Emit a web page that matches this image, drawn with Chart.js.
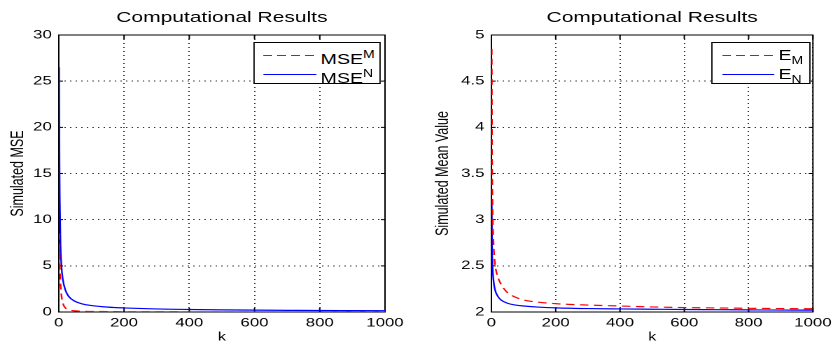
<!DOCTYPE html>
<html>
<head>
<meta charset="utf-8">
<script src="https://cdn.jsdelivr.net/npm/chart.js@4"></script>
<style>
  body { margin: 0; background: #fff; }
  #stage {
    position: relative;
    width: 598px;
    height: 347px;
    transform: scaleX(1.4);
    transform-origin: 0 0;
    font-family: "Liberation Sans", Arial, sans-serif;
  }
  #left, #right { position: absolute; top: 0; }
  #left { left: 0; }
  #right { left: 299px; }
  .legend {
    position: absolute;
    top: 42px;
    height: 42px;
    border: 1px solid #000;
    background: #fff;
    box-sizing: border-box;
    font-size: 14px;
    color: #000;
  }
  .legend .row { position: absolute; left: 0; width: 100%; height: 18px; line-height: 18px; white-space: nowrap; }
  .legend .swatch { position: absolute; top: 9px; height: 1px; }
  .legend .solid { background: #0000ff; }
  .legend .dashed { background: repeating-linear-gradient(to right, #ff0000 0 6px, transparent 6px 10px); }
  .legend .txt { position: absolute; top: 0; }
  .legend sup, .legend sub { font-size: 10px; }
</style>
</head>
<body>
<div id="stage">
  <canvas id="left" width="299" height="347"></canvas>
  <canvas id="right" width="299" height="347"></canvas>

  <div class="legend" style="left:181px;width:91px;">
    <div class="row" style="top:3px;">
      <div class="swatch dashed" style="left:6px;width:38px;"></div>
      <span class="txt" style="left:47px">MSE<sup>M</sup></span>
    </div>
    <div class="row" style="top:22px;">
      <div class="swatch solid" style="left:6px;width:38px;"></div>
      <span class="txt" style="left:47px">MSE<sup>N</sup></span>
    </div>
  </div>

  <div class="legend" style="left:508px;width:71px;">
    <div class="row" style="top:3px;">
      <div class="swatch dashed" style="left:7px;width:37px;"></div>
      <span class="txt" style="left:47px">E<sub>M</sub></span>
    </div>
    <div class="row" style="top:22px;">
      <div class="swatch solid" style="left:7px;width:37px;"></div>
      <span class="txt" style="left:47px">E<sub>N</sub></span>
    </div>
  </div>
</div>

<script>
// iteration index k (shared by all four curves)
const kValues = [1, 2, 3, 5, 8, 12, 20, 30, 50, 75, 100, 150, 200, 300, 400, 500, 600, 700, 800, 900, 1000];

// left panel: simulated MSE
const mseM = [8.5, 6.5, 5.0, 3.2, 1.8, 1.0, 0.45, 0.25, 0.12, 0.08, 0.06, 0.045, 0.035, 0.028, 0.022, 0.019, 0.016, 0.014, 0.012, 0.011, 0.01];
const mseN = [26.5, 16, 12, 7.5, 5.0, 3.6, 2.4, 1.7, 1.15, 0.85, 0.7, 0.53, 0.44, 0.33, 0.27, 0.23, 0.2, 0.18, 0.16, 0.15, 0.14];

// right panel: simulated mean value
const eM = [4.85, 3.8, 3.3, 2.9, 2.65, 2.5, 2.38, 2.3, 2.21, 2.16, 2.13, 2.105, 2.09, 2.075, 2.065, 2.055, 2.048, 2.044, 2.04, 2.037, 2.035];
const eN = [3.2, 2.7, 2.55, 2.4, 2.3, 2.23, 2.17, 2.13, 2.095, 2.075, 2.065, 2.052, 2.045, 2.037, 2.033, 2.03, 2.027, 2.025, 2.023, 2.021, 2.02];

const xTicks = [0, 200, 400, 600, 800, 1000];
const titleText = 'Computational Results';

const FONT = '"Liberation Sans", Arial, sans-serif';

function points(values) {
  return kValues.map((k, i) => ({ x: k, y: values[i] }));
}

// MATLAB-style box around the axes with small inward tick marks
const framePlugin = {
  id: 'frame',
  beforeDatasetsDraw(chart) {
    const { ctx, chartArea: a, scales } = chart;
    ctx.save();
    ctx.strokeStyle = '#000';
    ctx.lineWidth = 1;
    ctx.setLineDash([]);
    ctx.strokeRect(a.left, a.top, a.right - a.left, a.bottom - a.top);
    ctx.beginPath();
    scales.x.ticks.forEach((t) => {
      const px = scales.x.getPixelForValue(t.value);
      ctx.moveTo(px, a.bottom); ctx.lineTo(px, a.bottom - 4);
      ctx.moveTo(px, a.top); ctx.lineTo(px, a.top + 4);
    });
    scales.y.ticks.forEach((t) => {
      const py = scales.y.getPixelForValue(t.value);
      ctx.moveTo(a.left, py); ctx.lineTo(a.left + 3, py);
      ctx.moveTo(a.right, py); ctx.lineTo(a.right - 3, py);
    });
    ctx.stroke();
    ctx.restore();
  },
};

function makeChart(canvasId, cfg) {
  return new Chart(document.getElementById(canvasId), {
    type: 'line',
    data: {
      datasets: [
        {
          label: cfg.labels[0],
          data: points(cfg.series[0]),
          borderColor: '#ff0000',
          borderWidth: 1.2,
          borderDash: [6, 4],
          pointRadius: 0,
          fill: false,
          cubicInterpolationMode: 'monotone',
        },
        {
          label: cfg.labels[1],
          data: points(cfg.series[1]),
          borderColor: '#0000ff',
          borderWidth: 1.2,
          pointRadius: 0,
          fill: false,
          cubicInterpolationMode: 'monotone',
        },
      ],
    },
    options: {
      responsive: false,
      animation: false,
      devicePixelRatio: 2,
      layout: { padding: { left: 0, right: cfg.padRight, top: 0, bottom: 0 } },
      plugins: {
        legend: { display: false },
        tooltip: { enabled: false },
        title: {
          display: true,
          text: titleText,
          fullSize: false,
          color: '#000',
          font: { family: FONT, size: 15, weight: 'normal' },
          padding: { top: 9, bottom: 8 },
        },
      },
      scales: {
        x: {
          type: 'linear',
          min: 0,
          max: 1000,
          afterBuildTicks: (scale) => { scale.ticks = xTicks.map((v) => ({ value: v })); },
          afterFit: (scale) => { scale.height = 35; },
          border: { display: false, dash: [1, 3] },
          grid: { color: 'rgba(0,0,0,0.8)', lineWidth: 1, drawTicks: false },
          ticks: {
            color: '#000',
            padding: 4,
            maxRotation: 0,
            font: { family: FONT, size: 12 },
            callback: (v) => String(v),
          },
          title: {
            display: true,
            text: 'k',
            color: '#000',
            font: { family: FONT, size: 11.5 },
            padding: { top: 0, bottom: 3 },
          },
        },
        y: {
          min: cfg.yMin,
          max: cfg.yMax,
          afterFit: (scale) => { scale.width = cfg.yWidth; },
          border: { display: false, dash: [1, 3] },
          grid: { color: 'rgba(0,0,0,0.8)', lineWidth: 1, drawTicks: false },
          ticks: {
            stepSize: cfg.yStep,
            color: '#000',
            padding: 5,
            font: { family: FONT, size: 12 },
            callback: (v) => String(v),
          },
          title: {
            display: true,
            text: cfg.yTitle,
            color: '#000',
            font: { family: FONT, size: 12.5 },
            padding: { top: cfg.yTitlePad, bottom: 0 },
          },
        },
      },
    },
    plugins: [framePlugin],
  });
}

makeChart('left', {
  labels: ['MSE^M', 'MSE^N'],
  series: [mseM, mseN],
  yMin: 0, yMax: 30, yStep: 5,
  yTitle: 'Simulated MSE',
  yWidth: 42, yTitlePad: 5.5, padRight: 24,
});

makeChart('right', {
  labels: ['E_M', 'E_N'],
  series: [eM, eN],
  yMin: 2, yMax: 5, yStep: 0.5,
  yTitle: 'Simulated Mean Value',
  yWidth: 52, yTitlePad: 10, padRight: 13,
});
</script>
</body>
</html>
